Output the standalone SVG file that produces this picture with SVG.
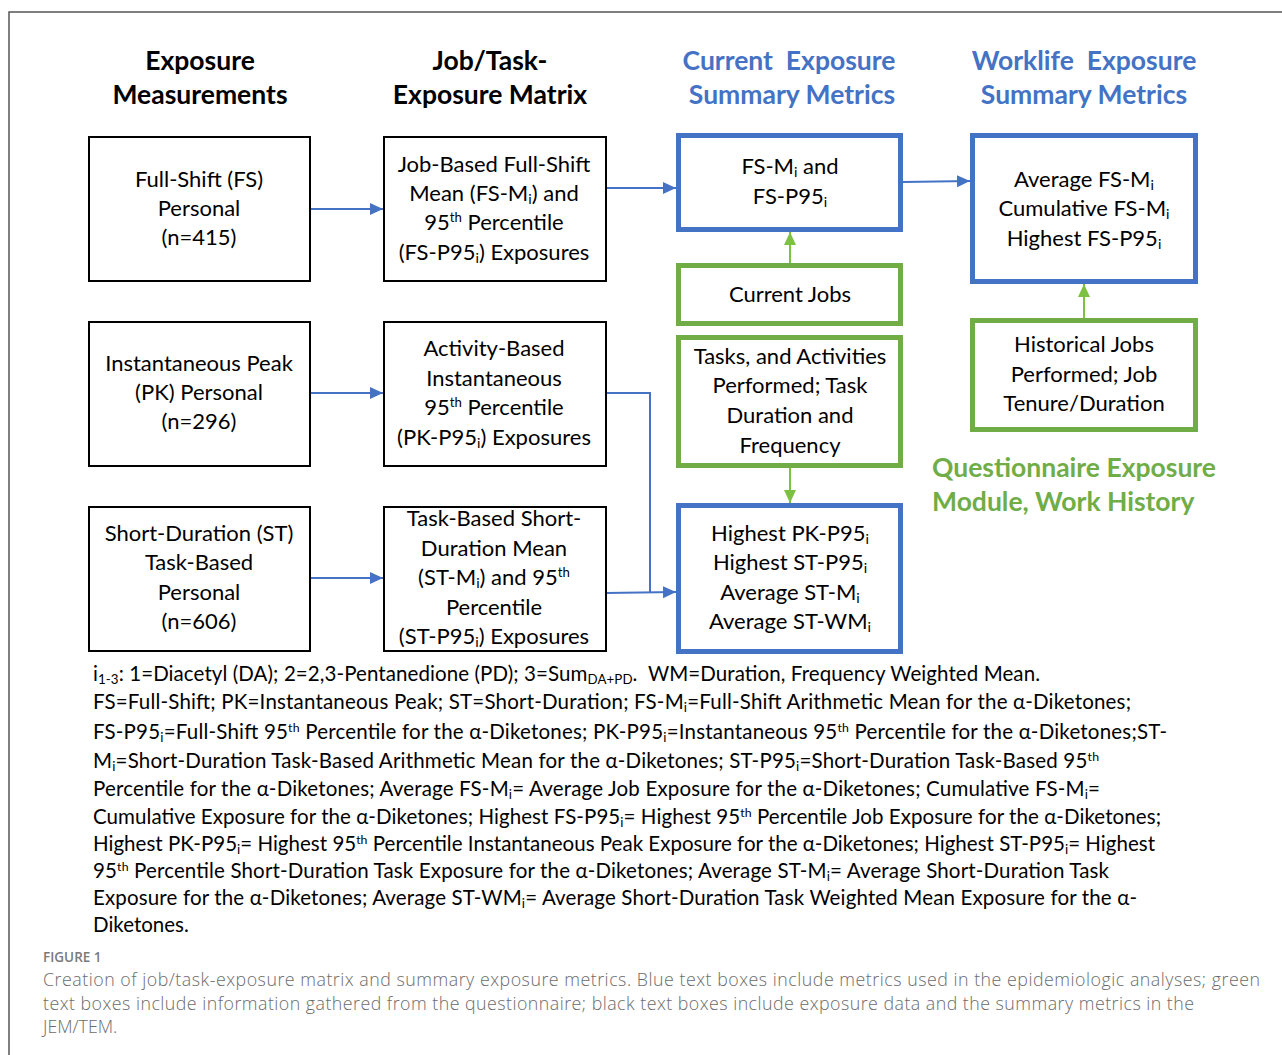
<svg xmlns="http://www.w3.org/2000/svg" width="1282" height="1055" viewBox="0 0 1282 1055">
<defs>
<style>
.bx{fill:#fff;stroke:#000;stroke-width:2}
.bb{fill:#fff;stroke:#4472C4;stroke-width:5}
.gb{fill:#fff;stroke:#70AD47;stroke-width:5}
.t{font-family:Lato,"Liberation Sans",sans-serif;font-size:22px;fill:#000;text-anchor:middle}
.h{font-family:Lato,"Liberation Sans",sans-serif;font-size:26.5px;font-weight:bold;text-anchor:middle}
.hk{fill:#000}.hb{fill:#4472C4}.hg{fill:#70AD47}
.fn{font-family:Lato,"Liberation Sans",sans-serif;font-size:20.5px;fill:#000}
.cap{font-family:"Open Sans","Liberation Sans",sans-serif;font-size:17.8px;fill:#6b6b6b;font-weight:300}
.sb{font-size:65%;baseline-shift:-3px}
.sp{font-size:60%;baseline-shift:super}
.cb{fill:none;stroke:#4472C4;stroke-width:2}
.cg{fill:none;stroke:#7DC142;stroke-width:2}
</style>
<marker id="ab" markerUnits="userSpaceOnUse" markerWidth="14" markerHeight="14" refX="13" refY="7" orient="auto"><path d="M0,1 L13,7 L0,13 z" fill="#4472C4"/></marker>
<marker id="ag" markerUnits="userSpaceOnUse" markerWidth="14" markerHeight="14" refX="13" refY="7" orient="auto"><path d="M0,1 L13,7 L0,13 z" fill="#7DC142"/></marker>
</defs>
<rect width="1282" height="1055" fill="#fff"/>
<path d="M9,1055 V12 H1282" fill="none" stroke="#555" stroke-width="1.5"/>

<g id="headings">
<text class="h hk" x="200" y="70">Exposure</text>
<text class="h hk" x="200" y="104">Measurements</text>
<text class="h hk" x="490" y="70">Job/Task-</text>
<text class="h hk" x="490" y="104">Exposure Matrix</text>
<text class="h hb" x="789" y="70" xml:space="preserve">Current  Exposure</text>
<text class="h hb" x="792" y="104">Summary Metrics</text>
<text class="h hb" x="1084" y="70" xml:space="preserve">Worklife  Exposure</text>
<text class="h hb" x="1084" y="104">Summary Metrics</text>
<text class="h hg" x="932" y="477" style="text-anchor:start">Questionnaire Exposure</text>
<text class="h hg" x="932" y="511" style="text-anchor:start">Module, Work History</text>
</g>

<g id="connectors">
<line class="cb" x1="310" y1="209" x2="383" y2="209" marker-end="url(#ab)"/>
<line class="cb" x1="606" y1="188" x2="676" y2="188" marker-end="url(#ab)"/>
<line class="cb" x1="903" y1="182" x2="970" y2="181" marker-end="url(#ab)"/>
<line class="cb" x1="310" y1="393" x2="383" y2="393" marker-end="url(#ab)"/>
<line class="cb" x1="310" y1="578" x2="383" y2="578" marker-end="url(#ab)"/>
<polyline class="cb" points="606,393 650,393 650,592"/>
<line class="cb" x1="606" y1="593" x2="676" y2="592" marker-end="url(#ab)"/>
<line class="cg" x1="790" y1="263" x2="790" y2="232" marker-end="url(#ag)"/>
<line class="cg" x1="790" y1="468" x2="790" y2="503" marker-end="url(#ag)"/>
<line class="cg" x1="1084" y1="318" x2="1084" y2="284" marker-end="url(#ag)"/>
</g>

<g id="fs-personal">
<rect class="bx" x="89" y="137" width="221" height="144"/>
<text class="t" x="199" y="187">Full-Shift (FS)</text>
<text class="t" x="199" y="216">Personal</text>
<text class="t" x="199" y="245">(n=415)</text>
</g>
<g id="fs-jem">
<rect class="bx" x="384" y="137" width="222" height="144"/>
<text class="t" x="494" y="172">Job-Based Full-Shift</text>
<text class="t" x="494" y="201">Mean (FS-M<tspan class="sb">i</tspan>) and</text>
<text class="t" x="494" y="230">95<tspan class="sp">th</tspan> Percentile</text>
<text class="t" x="494" y="260">(FS-P95<tspan class="sb">i</tspan>) Exposures</text>
</g>
<g id="pk-personal">
<rect class="bx" x="89" y="322" width="221" height="144"/>
<text class="t" x="199" y="371">Instantaneous Peak</text>
<text class="t" x="199" y="400">(PK) Personal</text>
<text class="t" x="199" y="429">(n=296)</text>
</g>
<g id="pk-jem">
<rect class="bx" x="384" y="322" width="222" height="144"/>
<text class="t" x="494" y="356">Activity-Based</text>
<text class="t" x="494" y="386">Instantaneous</text>
<text class="t" x="494" y="415">95<tspan class="sp">th</tspan> Percentile</text>
<text class="t" x="494" y="445">(PK-P95<tspan class="sb">i</tspan>) Exposures</text>
</g>
<g id="st-personal">
<rect class="bx" x="89" y="507" width="221" height="144"/>
<text class="t" x="199" y="541">Short-Duration (ST)</text>
<text class="t" x="199" y="570">Task-Based</text>
<text class="t" x="199" y="600">Personal</text>
<text class="t" x="199" y="629">(n=606)</text>
</g>
<g id="st-jem">
<rect class="bx" x="384" y="507" width="222" height="144"/>
<text class="t" x="494" y="526">Task-Based Short-</text>
<text class="t" x="494" y="556">Duration Mean</text>
<text class="t" x="494" y="585">(ST-M<tspan class="sb">i</tspan>) and 95<tspan class="sp">th</tspan></text>
<text class="t" x="494" y="615">Percentile</text>
<text class="t" x="494" y="644">(ST-P95<tspan class="sb">i</tspan>) Exposures</text>
</g>
<g id="current-fs">
<rect class="bb" x="678.5" y="135.5" width="222" height="94"/>
<text class="t" x="790" y="174">FS-M<tspan class="sb">i</tspan> and</text>
<text class="t" x="790" y="204">FS-P95<tspan class="sb">i</tspan></text>
</g>
<g id="worklife">
<rect class="bb" x="972.5" y="135.5" width="223" height="146"/>
<text class="t" x="1084" y="187">Average FS-M<tspan class="sb">i</tspan></text>
<text class="t" x="1084" y="216">Cumulative FS-M<tspan class="sb">i</tspan></text>
<text class="t" x="1084" y="246">Highest FS-P95<tspan class="sb">i</tspan></text>
</g>
<g id="current-jobs">
<rect class="gb" x="678.5" y="265.5" width="222" height="58"/>
<text class="t" x="790" y="302">Current Jobs</text>
</g>
<g id="tasks">
<rect class="gb" x="678.5" y="337.5" width="222" height="128"/>
<text class="t" x="790" y="364">Tasks, and Activities</text>
<text class="t" x="790" y="393">Performed; Task</text>
<text class="t" x="790" y="423">Duration and</text>
<text class="t" x="790" y="453">Frequency</text>
</g>
<g id="historical">
<rect class="gb" x="972.5" y="320.5" width="223" height="109"/>
<text class="t" x="1084" y="352">Historical Jobs</text>
<text class="t" x="1084" y="382">Performed; Job</text>
<text class="t" x="1084" y="411">Tenure/Duration</text>
</g>
<g id="current-st">
<rect class="bb" x="678.5" y="505.5" width="222" height="146"/>
<text class="t" x="790" y="541">Highest PK-P95<tspan class="sb">i</tspan></text>
<text class="t" x="790" y="570">Highest ST-P95<tspan class="sb">i</tspan></text>
<text class="t" x="790" y="600">Average ST-M<tspan class="sb">i</tspan></text>
<text class="t" x="790" y="629">Average ST-WM<tspan class="sb">i</tspan></text>
</g>

<g id="footnote" class="fn">
<text x="93" y="681" textLength="947" lengthAdjust="spacing">i<tspan class="sb">1-3</tspan>: 1=Diacetyl (DA); 2=2,3-Pentanedione (PD); 3=Sum<tspan class="sb">DA+PD</tspan>. <tspan xml:space="preserve"> WM=Duration, Frequency Weighted Mean.</tspan></text>
<text x="93" y="709" textLength="1038" lengthAdjust="spacing">FS=Full-Shift; PK=Instantaneous Peak; ST=Short-Duration; FS-M<tspan class="sb">i</tspan>=Full-Shift Arithmetic Mean for the α-Diketones;</text>
<text x="93" y="739" textLength="1074" lengthAdjust="spacing">FS-P95<tspan class="sb">i</tspan>=Full-Shift 95<tspan class="sp">th</tspan> Percentile for the α-Diketones; PK-P95<tspan class="sb">i</tspan>=Instantaneous 95<tspan class="sp">th</tspan> Percentile for the α-Diketones;ST-</text>
<text x="93" y="768" textLength="1006" lengthAdjust="spacing">M<tspan class="sb">i</tspan>=Short-Duration Task-Based Arithmetic Mean for the α-Diketones; ST-P95<tspan class="sb">i</tspan>=Short-Duration Task-Based 95<tspan class="sp">th</tspan></text>
<text x="93" y="796" textLength="1007" lengthAdjust="spacing">Percentile for the α-Diketones; Average FS-M<tspan class="sb">i</tspan>= Average Job Exposure for the α-Diketones; Cumulative FS-M<tspan class="sb">i</tspan>=</text>
<text x="93" y="824" textLength="1068" lengthAdjust="spacing">Cumulative Exposure for the α-Diketones; Highest FS-P95<tspan class="sb">i</tspan>= Highest 95<tspan class="sp">th</tspan> Percentile Job Exposure for the α-Diketones;</text>
<text x="93" y="851" textLength="1062" lengthAdjust="spacing">Highest PK-P95<tspan class="sb">i</tspan>= Highest 95<tspan class="sp">th</tspan> Percentile Instantaneous Peak Exposure for the α-Diketones; Highest ST-P95<tspan class="sb">i</tspan>= Highest</text>
<text x="93" y="878" textLength="1016" lengthAdjust="spacing">95<tspan class="sp">th</tspan> Percentile Short-Duration Task Exposure for the α-Diketones; Average ST-M<tspan class="sb">i</tspan>= Average Short-Duration Task</text>
<text x="93" y="905" textLength="1044" lengthAdjust="spacing">Exposure for the α-Diketones; Average ST-WM<tspan class="sb">i</tspan>= Average Short-Duration Task Weighted Mean Exposure for the α-</text>
<text x="93" y="932">Diketones.</text>
</g>

<g id="caption">
<text x="43" y="962" style="font-family:'Open Sans','Liberation Sans',sans-serif;font-size:13.5px;font-weight:600;fill:#7a7a7a">FIGURE 1</text>
<text class="cap" x="43" y="986" textLength="1217" lengthAdjust="spacing">Creation of job/task-exposure matrix and summary exposure metrics. Blue text boxes include metrics used in the epidemiologic analyses; green</text>
<text class="cap" x="43" y="1010" textLength="1151" lengthAdjust="spacing">text boxes include information gathered from the questionnaire; black text boxes include exposure data and the summary metrics in the</text>
<text class="cap" x="43" y="1033">JEM/TEM.</text>
</g>
</svg>
